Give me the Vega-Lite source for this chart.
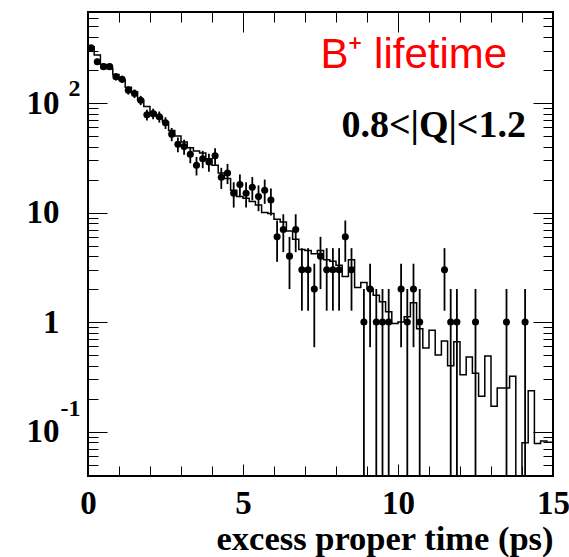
{
  "$schema": "https://vega.github.io/schema/vega-lite/v6.json",
  "width": 465,
  "height": 464,
  "autosize": "none",
  "padding": {"left": 88, "top": 12, "right": 16, "bottom": 81},
  "background": "white",
  "config": {
    "view": {"stroke": "black", "strokeWidth": 2},
    "axis": {"grid": false, "domain": false, "tickColor": "black", "tickWidth": 1, "labelColor": "black",
             "labelFont": "Liberation Serif", "labelFontWeight": "bold", "labelFontSize": 33,
             "labelOverlap": false, "labelFlush": false}
  },
  "datasets": {
    "hist": [
      {"t": 0.0, "v": 327}, {"t": 0.2, "v": 274}, {"t": 0.4, "v": 225}, {"t": 0.6, "v": 207},
      {"t": 0.8, "v": 182}, {"t": 1.0, "v": 162}, {"t": 1.2, "v": 139}, {"t": 1.4, "v": 127},
      {"t": 1.6, "v": 106}, {"t": 1.8, "v": 93}, {"t": 2.0, "v": 82}, {"t": 2.2, "v": 75},
      {"t": 2.4, "v": 67}, {"t": 2.6, "v": 56}, {"t": 2.8, "v": 50}, {"t": 3.0, "v": 44},
      {"t": 3.2, "v": 39}, {"t": 3.4, "v": 36.5}, {"t": 3.6, "v": 35}, {"t": 3.8, "v": 31},
      {"t": 4.0, "v": 27}, {"t": 4.2, "v": 23}, {"t": 4.4, "v": 20.5}, {"t": 4.6, "v": 16},
      {"t": 4.8, "v": 14}, {"t": 5.0, "v": 13.5}, {"t": 5.2, "v": 12.6}, {"t": 5.4, "v": 11.7},
      {"t": 5.6, "v": 10}, {"t": 5.8, "v": 9.8}, {"t": 6.0, "v": 8.7}, {"t": 6.2, "v": 8.2},
      {"t": 6.4, "v": 6.8}, {"t": 6.6, "v": 5.7}, {"t": 6.8, "v": 4.6}, {"t": 7.0, "v": 4.5},
      {"t": 7.2, "v": 4.2}, {"t": 7.4, "v": 4.5}, {"t": 7.6, "v": 3.7}, {"t": 7.8, "v": 3.6},
      {"t": 8.0, "v": 3.3}, {"t": 8.2, "v": 2.6}, {"t": 8.4, "v": 3.7}, {"t": 8.6, "v": 2.07},
      {"t": 8.8, "v": 2.3}, {"t": 9.0, "v": 2.0}, {"t": 9.2, "v": 1.76}, {"t": 9.4, "v": 1.53},
      {"t": 9.6, "v": 1.24}, {"t": 9.8, "v": 0.97}, {"t": 10.0, "v": 1.0}, {"t": 10.2, "v": 1.12},
      {"t": 10.4, "v": 1.5}, {"t": 10.6, "v": 0.87}, {"t": 10.8, "v": 0.58}, {"t": 11.0, "v": 0.84},
      {"t": 11.2, "v": 0.5}, {"t": 11.4, "v": 0.67}, {"t": 11.6, "v": 0.40}, {"t": 11.8, "v": 0.66},
      {"t": 12.0, "v": 0.33}, {"t": 12.2, "v": 0.48}, {"t": 12.4, "v": 0.34}, {"t": 12.6, "v": 0.21},
      {"t": 12.8, "v": 0.49}, {"t": 13.0, "v": 0.17}, {"t": 13.2, "v": 0.25}, {"t": 13.4, "v": 0.25},
      {"t": 13.6, "v": 0.32}, {"t": 13.8, "v": 0.005}, {"t": 14.0, "v": 0.079}, {"t": 14.2, "v": 0.236},
      {"t": 14.4, "v": 0.078}, {"t": 14.6, "v": 0.082}, {"t": 14.8, "v": 0.08}, {"t": 15.0, "v": 0.08}
    ],
    "pts": [
      {"t": 0.1, "n": 320, "lo": 302.1, "hi": 337.9},
      {"t": 0.3, "n": 238, "lo": 222.6, "hi": 253.4},
      {"t": 0.5, "n": 215, "lo": 200.3, "hi": 229.7},
      {"t": 0.7, "n": 215, "lo": 200.3, "hi": 229.7},
      {"t": 0.9, "n": 174, "lo": 160.8, "hi": 187.2},
      {"t": 1.1, "n": 165, "lo": 152.2, "hi": 177.8},
      {"t": 1.3, "n": 131, "lo": 119.6, "hi": 142.4},
      {"t": 1.5, "n": 122, "lo": 111.0, "hi": 133.0},
      {"t": 1.7, "n": 106, "lo": 95.7, "hi": 116.3},
      {"t": 1.9, "n": 78, "lo": 69.2, "hi": 86.8},
      {"t": 2.1, "n": 80, "lo": 71.1, "hi": 88.9},
      {"t": 2.3, "n": 75, "lo": 66.3, "hi": 83.7},
      {"t": 2.5, "n": 66, "lo": 57.9, "hi": 74.1},
      {"t": 2.7, "n": 52, "lo": 44.8, "hi": 59.2},
      {"t": 2.9, "n": 42, "lo": 35.5, "hi": 48.5},
      {"t": 3.1, "n": 40, "lo": 33.7, "hi": 46.3},
      {"t": 3.3, "n": 34, "lo": 28.2, "hi": 39.8},
      {"t": 3.5, "n": 27, "lo": 21.8, "hi": 32.2},
      {"t": 3.7, "n": 31, "lo": 25.4, "hi": 36.6},
      {"t": 3.9, "n": 29, "lo": 23.6, "hi": 34.4},
      {"t": 4.1, "n": 33, "lo": 27.3, "hi": 38.7},
      {"t": 4.3, "n": 21, "lo": 16.4, "hi": 25.6},
      {"t": 4.5, "n": 23, "lo": 18.2, "hi": 27.8},
      {"t": 4.7, "n": 15, "lo": 11.1, "hi": 18.9},
      {"t": 4.9, "n": 18, "lo": 13.8, "hi": 22.2},
      {"t": 5.1, "n": 15, "lo": 11.1, "hi": 18.9},
      {"t": 5.3, "n": 17, "lo": 12.9, "hi": 21.1},
      {"t": 5.5, "n": 14, "lo": 10.3, "hi": 17.7},
      {"t": 5.7, "n": 16, "lo": 12.0, "hi": 20.0},
      {"t": 5.9, "n": 13, "lo": 9.4, "hi": 16.6},
      {"t": 6.1, "n": 6, "lo": 3.55, "hi": 8.45},
      {"t": 6.3, "n": 7, "lo": 4.35, "hi": 9.65},
      {"t": 6.5, "n": 4, "lo": 2.0, "hi": 6.0},
      {"t": 6.7, "n": 7, "lo": 4.35, "hi": 9.65},
      {"t": 6.9, "n": 3, "lo": 1.27, "hi": 4.73},
      {"t": 7.1, "n": 3, "lo": 1.27, "hi": 4.73},
      {"t": 7.3, "n": 2, "lo": 0.59, "hi": 3.41},
      {"t": 7.5, "n": 4, "lo": 2.0, "hi": 6.0},
      {"t": 7.7, "n": 3, "lo": 1.27, "hi": 4.73},
      {"t": 7.9, "n": 3, "lo": 1.27, "hi": 4.73},
      {"t": 8.1, "n": 3, "lo": 1.27, "hi": 4.73},
      {"t": 8.3, "n": 6, "lo": 3.55, "hi": 8.45},
      {"t": 8.5, "n": 3, "lo": 1.27, "hi": 4.73},
      {"t": 8.9, "n": 1, "lo": 0.001, "hi": 2.0},
      {"t": 9.1, "n": 2, "lo": 0.59, "hi": 3.41},
      {"t": 9.3, "n": 1, "lo": 0.001, "hi": 2.0},
      {"t": 9.5, "n": 1, "lo": 0.001, "hi": 2.0},
      {"t": 9.7, "n": 1, "lo": 0.001, "hi": 2.0},
      {"t": 10.1, "n": 2, "lo": 0.59, "hi": 3.41},
      {"t": 10.3, "n": 1, "lo": 0.001, "hi": 2.0},
      {"t": 10.5, "n": 2, "lo": 0.59, "hi": 3.41},
      {"t": 10.7, "n": 1, "lo": 0.001, "hi": 2.0},
      {"t": 11.5, "n": 3, "lo": 1.27, "hi": 4.73},
      {"t": 11.7, "n": 1, "lo": 0.001, "hi": 2.0},
      {"t": 11.9, "n": 1, "lo": 0.001, "hi": 2.0},
      {"t": 12.5, "n": 1, "lo": 0.001, "hi": 2.0},
      {"t": 13.5, "n": 1, "lo": 0.001, "hi": 2.0},
      {"t": 14.1, "n": 1, "lo": 0.001, "hi": 2.0}
    ],
    "notes": [
      {"t": 13.52, "v": 209, "label": "B⁺ lifetime"},
      {"t": 14.13, "v": 49, "label": "0.8<|Q|<1.2"}
    ]
  },
  "layer": [
    {
      "data": {"name": "hist"},
      "mark": {"type": "line", "interpolate": "step-after", "color": "black", "strokeWidth": 1.5, "clip": true},
      "encoding": {
        "x": {"field": "t", "type": "quantitative",
              "scale": {"domain": [0, 15], "nice": false, "zero": false},
              "axis": {"orient": "bottom", "values": [0,1,2,3,4,5,6,7,8,9,10,11,12,13,14,15],
                       "labelExpr": "datum.value % 5 == 0 ? datum.label : ''",
                       "tickSize": {"condition": {"test": "datum.value % 5 == 0", "value": -12}, "value": -10},
                       "labelPadding": 23,
                       "title": "excess proper time (ps)", "titleAnchor": "end",
                       "titleFont": "Liberation Serif", "titleFontWeight": "bold", "titleFontSize": 34.5,
                       "titleColor": "black", "titlePadding": 0}},
        "y": {"field": "v", "type": "quantitative",
              "scale": {"type": "log", "domain": [0.0393, 678], "nice": false},
              "axis": {"orient": "left",
                       "values": [0.04,0.05,0.06,0.07,0.08,0.09,0.1,0.2,0.3,0.4,0.5,0.6,0.7,0.8,0.9,1,2,3,4,5,6,7,8,9,10,20,30,40,50,60,70,80,90,100,200,300,400,500,600],
                       "labelExpr": "datum.value == 100 ? '10' : datum.value == 10 ? '10' : datum.value == 1 ? '1' : datum.value == 0.1 ? '10' : ''",
                       "tickSize": {"condition": {"test": "abs(log(datum.value)/LN10 - round(log(datum.value)/LN10)) < 0.001", "value": -19}, "value": -10},
                       "labelPadding": 48, "title": null}}
      }
    },
    {
      "data": {"name": "pts"},
      "mark": {"type": "point", "filled": true, "shape": "circle", "size": 50, "color": "black", "opacity": 1},
      "encoding": {
        "x": {"field": "t", "type": "quantitative",
              "axis": {"orient": "top", "values": [0,1,2,3,4,5,6,7,8,9,10,11,12,13,14,15], "labels": false,
                       "tickSize": {"condition": {"test": "datum.value % 5 == 0", "value": -20}, "value": -10},
                       "title": null}},
        "y": {"field": "n", "type": "quantitative",
              "axis": {"orient": "right",
                       "values": [0.04,0.05,0.06,0.07,0.08,0.09,0.1,0.2,0.3,0.4,0.5,0.6,0.7,0.8,0.9,1,2,3,4,5,6,7,8,9,10,20,30,40,50,60,70,80,90,100,200,300,400,500,600],
                       "labels": false,
                       "tickSize": {"condition": {"test": "abs(log(datum.value)/LN10 - round(log(datum.value)/LN10)) < 0.001", "value": -20}, "value": -10},
                       "title": null}}
      }
    },
    {
      "data": {"name": "pts"},
      "mark": {"type": "rule", "color": "black", "strokeWidth": 1.8, "clip": true},
      "encoding": {
        "x": {"field": "t", "type": "quantitative", "axis": null},
        "y": {"field": "lo", "type": "quantitative",
              "axis": {"orient": "left", "values": [0.1, 100], "ticks": false, "title": null,
                       "labelExpr": "datum.value == 100 ? '2' : '-1'",
                       "labelAlign": "left", "labelFontSize": 24,
                       "labelPadding": {"condition": {"test": "datum.value == 100", "value": 20}, "value": 28},
                       "labelOffset": {"condition": {"test": "datum.value == 100", "value": -15}, "value": -23}}},
        "y2": {"field": "hi"}
      }
    },
    {
      "data": {"name": "notes"},
      "transform": [{"filter": "datum.t < 14"}],
      "mark": {"type": "text", "color": "#ff0000", "font": "Liberation Sans", "fontSize": 42, "align": "right", "baseline": "alphabetic"},
      "encoding": {
        "x": {"field": "t", "type": "quantitative", "axis": null},
        "y": {"field": "v", "type": "quantitative", "axis": null},
        "text": {"field": "label"}
      }
    },
    {
      "data": {"name": "notes"},
      "transform": [{"filter": "datum.t > 14"}],
      "mark": {"type": "text", "color": "black", "font": "Liberation Serif", "fontWeight": "bold", "fontSize": 38, "align": "right", "baseline": "alphabetic"},
      "encoding": {
        "x": {"field": "t", "type": "quantitative", "axis": null},
        "y": {"field": "v", "type": "quantitative", "axis": null},
        "text": {"field": "label"}
      }
    }
  ],
  "resolve": {"axis": {"x": "independent", "y": "independent"}}
}
